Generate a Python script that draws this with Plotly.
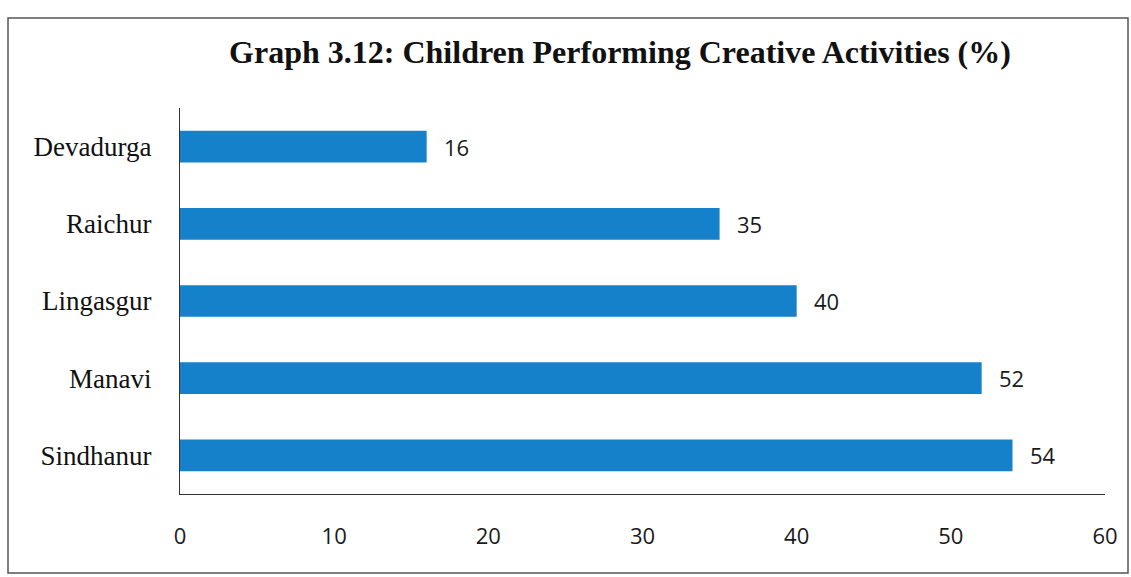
import plotly.graph_objects as go

# Share of children taking part in creative activities, by taluk
talukas = ["Devadurga", "Raichur", "Lingasgur", "Manavi", "Sindhanur"]
percent = [16, 35, 40, 52, 54]
x_ticks = [0, 10, 20, 30, 40, 50, 60]

bar_color = "#1681CB"
serif = "Liberation Serif, Times New Roman, serif"
sans = "Open Sans, Calibri, sans-serif"

fig = go.Figure(
    go.Bar(
        x=percent,
        y=talukas,
        orientation="h",
        width=0.41,
        marker=dict(color=bar_color, line=dict(width=0)),
        hoverinfo="x+y",
    )
)

# value labels just past the end of each bar
for name, val in zip(talukas, percent):
    fig.add_annotation(
        x=val, y=name, text=str(val), showarrow=False,
        xanchor="left", yanchor="middle", xshift=15,
        font=dict(family=sans, size=22, color="#1a1a1a"),
    )

# outer chart frame
L, T, W, H = 180, 108, 925, 386
fig.add_shape(
    type="rect", xref="paper", yref="paper",
    x0=(8 - L) / W, x1=(1128 - L) / W,
    y0=(T + H - 573) / H, y1=(T + H - 18) / H,
    line=dict(color="#555555", width=1.5), fillcolor="rgba(0,0,0,0)",
    layer="below",
)

fig.update_layout(
    width=1131, height=577,
    margin=dict(l=L, r=1131 - L - W, t=T, b=577 - T - H),
    paper_bgcolor="white", plot_bgcolor="white",
    showlegend=False,
    title=dict(
        text="<b>Graph 3.12: Children Performing Creative Activities (%)</b>",
        x=620 / 1131, xanchor="center", xref="container",
        y=1 - 52 / 577, yanchor="middle", yref="container",
        font=dict(family=serif, size=32, color="#111111"),
    ),
    xaxis=dict(
        range=[0, 60], tickvals=x_ticks, ticktext=[str(t) for t in x_ticks],
        showgrid=False, zeroline=False,
        showline=True, linecolor="#333333", linewidth=1.2,
        ticks="", ticklabelstandoff=22,
        tickfont=dict(family=sans, size=22, color="#1a1a1a"),
        fixedrange=True,
    ),
    yaxis=dict(
        categoryorder="array", categoryarray=talukas[::-1],
        showgrid=False, zeroline=False,
        showline=True, linecolor="#333333", linewidth=1.2,
        ticks="", ticklabelstandoff=22,
        tickfont=dict(family=serif, size=27, color="#111111"),
        fixedrange=True,
    ),
)

fig.write_html("out.html")
